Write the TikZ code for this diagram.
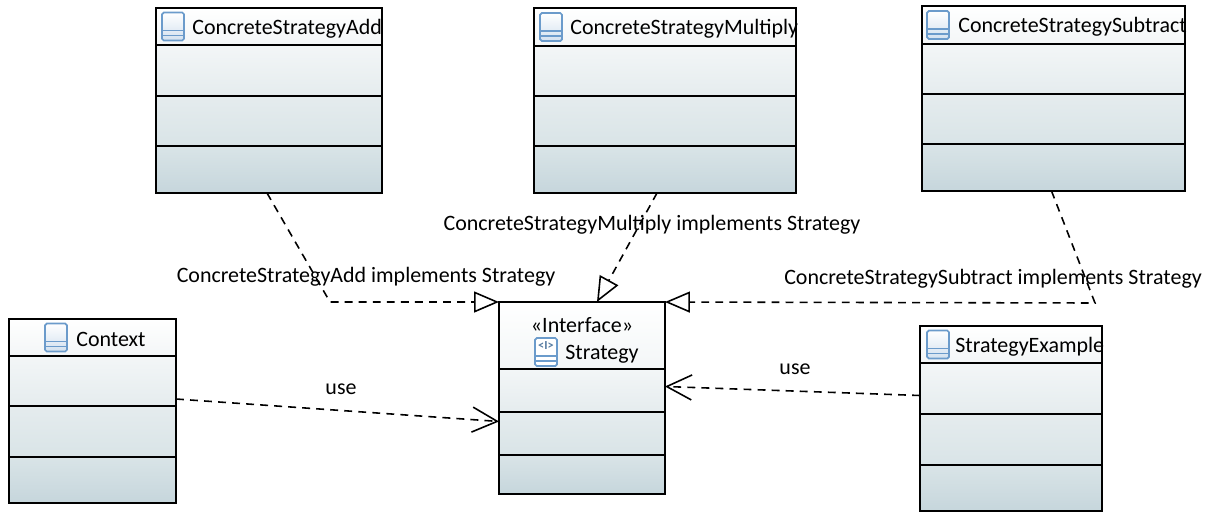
\documentclass[tikz,border=0pt]{standalone}
\usepackage{fontspec}
\setmainfont{Carlito}
\usetikzlibrary{positioning,calc,arrows.meta}
\definecolor{iconblue}{HTML}{6B9BCB}
\definecolor{shadea}{HTML}{F3F6F7}
\definecolor{shadeb}{HTML}{E5ECEE}
\definecolor{shadec}{HTML}{D9E4E7}
\definecolor{shaded}{HTML}{C6D6DC}
\tikzset{
    part/.style = {draw, rectangle, inner sep=0pt, outer sep=0pt, line width=1pt},
    head/.style = {part, top color=white, bottom color=shadea},
    upper/.style = {part, top color=shadea, bottom color=shadeb},
    middle/.style = {part, top color=shadeb, bottom color=shadec},
    lower/.style = {part, top color=shadec, bottom color=shaded},
    title/.style = {inner sep=0pt, anchor=west, font=\fontsize{12.5}{15}\selectfont},
    label/.style = {inner sep=0pt, font=\fontsize{12.5}{15}\selectfont},
    realize/.style = {draw, dash pattern=on 4.5pt off 3.5pt, line width=0.9pt, -{Triangle[open, fill=white, length=0.5cm, width=0.42cm]}},
    use/.style = {draw, dash pattern=on 4.5pt off 3.5pt, line width=0.9pt, -{Straight Barb[length=0.5cm, width=0.5cm]}},
    classicon/.pic = {
        \draw [iconblue, rounded corners=1pt, top color=white, bottom color=iconblue!30!white, line width=1pt] (-11,-14) rectangle (11,14);
        \draw [iconblue, line width=1pt] (-11,4) -- (11,4) (-11,9) -- (11,9);
    },
    interfaceicon/.pic = {
        \draw [iconblue, rounded corners=1pt, fill=white, line width=1pt] (-11,-14) rectangle (11,14);
        \draw [iconblue, line width=1pt] (-11,4) -- (11,4) (-11,9) -- (11,9);
        \node [inner sep=0pt, text=iconblue!80!black, font=\fontsize{7}{7}\bfseries\selectfont] at (0,-6) {<I>};
    }
}
\begin{document}
\begin{tikzpicture}[x=0.02cm, y=-0.02cm]
        \useasboundingbox (0,0) rectangle (1212,511);
        \foreach \n/\t/\xx/\yy/\w/\ha/\hb/\hc/\hd/\ic/\tx in {
            add/ConcreteStrategyAdd/156/8/226/37/51/50/47/17/36,
            multiply/ConcreteStrategyMultiply/534/8/262/38/50/50/47/17/36,
            subtract/ConcreteStrategySubtract/922/6/263/38/50/50/47/16/36,
            context/Context/9/319/167/37/50/51/46/47/67,
            example/StrategyExample/920/326/182/37/51/51/46/18/35}{
            \node [head, anchor=north west, minimum width=\w*0.02cm, minimum height=\ha*0.02cm] (\n head) at (\xx,\yy) {};
            \node [upper, below=0pt of \n head, minimum width=\w*0.02cm, minimum height=\hb*0.02cm] (\n upper) {};
            \node [middle, below=0pt of \n upper, minimum width=\w*0.02cm, minimum height=\hc*0.02cm] (\n middle) {};
            \node [lower, below=0pt of \n middle, minimum width=\w*0.02cm, minimum height=\hd*0.02cm] (\n lower) {};
            \pic at ($(\n head.west)+(\ic,0)$) {classicon};
            \node [title] (\n title) at ($(\n head.west)+(\tx,2)$) {\t};
        }
        % the interface has a taller head
        \node [head, anchor=north west, minimum width=3.32cm, minimum height=1.34cm] (strategyhead) at (499,302) {};
        \node [upper, below=0pt of strategyhead, minimum width=3.32cm, minimum height=0.86cm] (strategyupper) {};
        \node [middle, below=0pt of strategyupper, minimum width=3.32cm, minimum height=0.86cm] (strategymiddle) {};
        \node [lower, below=0pt of strategymiddle, minimum width=3.32cm, minimum height=0.78cm] (strategylower) {};
        \node [title, anchor=center] (stereotype) at (582,325) {«Interface»};
        \pic at (546,352) {interfaceicon};
        \node [title] (strategytitle) at (565,354) {Strategy};

        \coordinate (addcorner) at (330,302);
        \coordinate (subtractcorner) at (1095,303);
        \draw [realize] ($(addlower.south)+(-2,0)$) -- (addcorner) -- (strategyhead.north west);
        \draw [realize] ($(multiplylower.south)+(-8,0)$) -- ($(strategyhead.north)+(15,0)$);
        \draw [realize] ($(subtractlower.south)+(-2,0)$) -- (subtractcorner) -- (strategyhead.north east);
        \draw [use] ($(contextupper.east)+(0,18)$) -- ($(strategymiddle.west)+(0,-12)$);
        \draw [use] ($(exampleupper.west)+(0,7)$) -- ($(strategyupper.east)+(0,-4)$);

        \node [label] (addlabel) at (366,277) {ConcreteStrategyAdd implements Strategy};
        \node [label] (multiplylabel) at (652,225) {ConcreteStrategyMultiply implements Strategy};
        \node [label] (subtractlabel) at (993,279) {ConcreteStrategySubtract implements Strategy};
        \node [label] (contextuse) at (341,389) {use};
        \node [label] (exampleuse) at (795,369) {use};
\end{tikzpicture}
\end{document}
